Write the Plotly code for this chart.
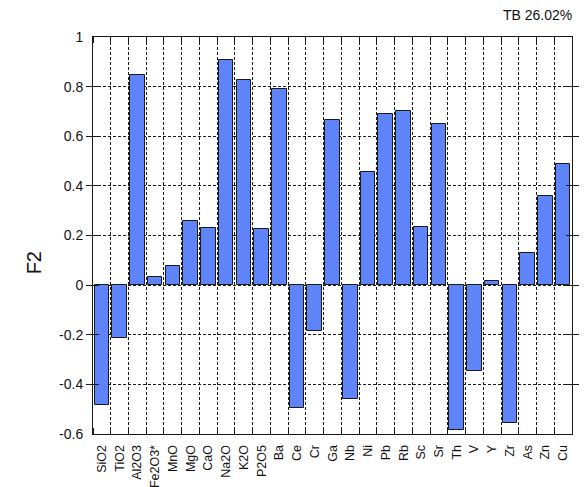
import plotly.graph_objects as go

# Variables (component loadings on factor F2)
variables = ["SiO2", "TiO2", "Al2O3", "Fe2O3*", "MnO", "MgO", "CaO", "Na2O", "K2O",
             "P2O5", "Ba", "Ce", "Cr", "Ga", "Nb", "Ni", "Pb", "Rb", "Sc", "Sr",
             "Th", "V", "Y", "Zr", "As", "Zn", "Cu"]
loadings = [-0.484, -0.215, 0.846, 0.034, 0.077, 0.259, 0.232, 0.906, 0.826,
            0.227, 0.791, -0.497, -0.185, 0.665, -0.459, 0.456, 0.691, 0.701,
            0.235, 0.648, -0.585, -0.345, 0.016, -0.554, 0.128, 0.36, 0.49]

y_ticks = [-0.6, -0.4, -0.2, 0, 0.2, 0.4, 0.6, 0.8, 1]
y_tick_text = ["-0.6", "-0.4", "-0.2", "0", "0.2", "0.4", "0.6", "0.8", "1"]

positions = list(range(len(variables)))

font_family = "Liberation Sans, Arial, sans-serif"
ink = "#1a1a1a"
grid_dash = "3px,2px"

fig = go.Figure()
fig.add_trace(go.Bar(
    x=positions,
    y=loadings,
    width=0.82,
    marker=dict(color="#5f84f9", line=dict(color=ink, width=1)),
    showlegend=False,
    hoverinfo="x+y",
))
# Empty companion trace so the top axis (boundary ticks) gets drawn
fig.add_trace(go.Scatter(x=[None], y=[None], xaxis="x2", showlegend=False,
                         hoverinfo="skip"))

boundary_minor = dict(
    tick0=0.5,
    dtick=1,
    ticks="inside",
    ticklen=6,
    tickcolor=ink,
)

fig.update_layout(
    width=584,
    height=487,
    margin=dict(l=93, r=12, t=37, b=53, autoexpand=False),
    paper_bgcolor="white",
    plot_bgcolor="white",
    font=dict(family=font_family, size=13, color="#111111"),
    bargap=0,
    xaxis=dict(
        range=[-0.5, len(variables) - 0.5],
        automargin=False,
        tickmode="array",
        tickvals=positions,
        ticktext=variables,
        tickangle=-90,
        tickfont=dict(size=12.5),
        ticklabelstandoff=5,
        ticks="",
        showgrid=False,
        zeroline=False,
        showline=True,
        linecolor=ink,
        linewidth=1,
        mirror=True,
        minor=dict(boundary_minor, showgrid=True, gridcolor=ink,
                   griddash=grid_dash, gridwidth=1),
    ),
    xaxis2=dict(
        overlaying="x",
        side="top",
        matches="x",
        automargin=False,
        range=[-0.5, len(variables) - 0.5],
        tickmode="array",
        tickvals=positions,
        showticklabels=False,
        ticks="",
        showgrid=False,
        zeroline=False,
        showline=False,
        minor=dict(boundary_minor, showgrid=False),
    ),
    yaxis=dict(
        range=[-0.6, 1.0],
        automargin=False,
        tickmode="array",
        tickvals=y_ticks,
        ticktext=y_tick_text,
        tickfont=dict(size=14),
        ticklabelstandoff=6,
        ticks="inside",
        ticklen=6,
        tickcolor=ink,
        showgrid=True,
        gridcolor=ink,
        griddash=grid_dash,
        gridwidth=1,
        zeroline=False,
        showline=True,
        linecolor=ink,
        linewidth=1,
        mirror="allticks",
    ),
)

fig.add_annotation(
    text="F2", xref="paper", yref="paper", x=-0.123, y=0.43,
    xanchor="center", yanchor="middle", textangle=-90,
    showarrow=False, font=dict(size=20, family=font_family, color="#111111"),
)
fig.add_annotation(
    text="TB 26.02%", xref="paper", yref="paper", x=1.004, y=1.03,
    xanchor="right", yanchor="bottom", showarrow=False,
    font=dict(size=14, family=font_family, color="#111111"),
)

fig.write_html("out.html")
